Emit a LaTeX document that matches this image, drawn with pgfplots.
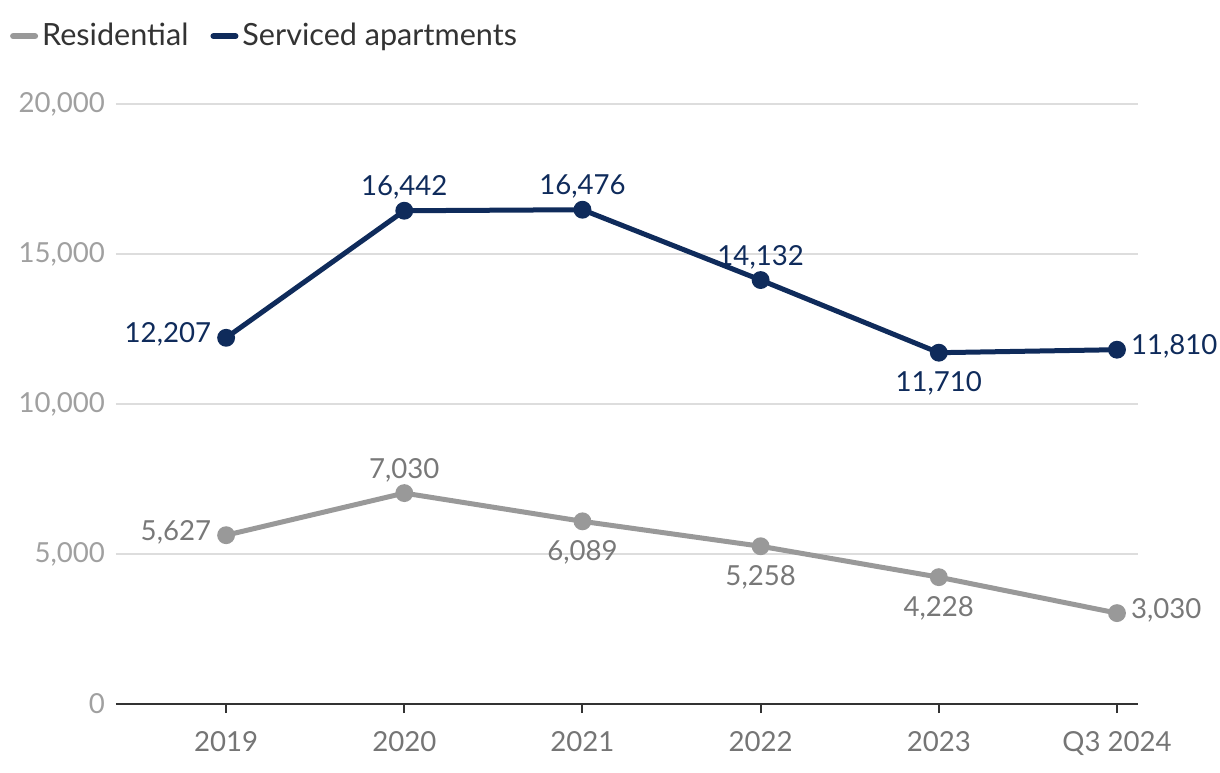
\documentclass[border=0pt]{standalone}
\usepackage{fontspec}
\setmainfont{Lato}
\usepackage{pgfplots}
\usepackage{pgfplotstable}
\pgfplotsset{compat=1.18}
\definecolor{navy}{HTML}{0F2B5B}
\definecolor{resgray}{HTML}{999999}
\definecolor{reslab}{HTML}{787878}
\definecolor{ytl}{HTML}{A0A0A0}
\definecolor{xtl}{HTML}{757575}
\definecolor{gridc}{HTML}{DDDDDD}
\definecolor{axc}{HTML}{333333}
\newcommand{\chartfont}{\fontsize{15.3}{18}\selectfont}
\newcommand{\numfont}{\fontsize{13.8}{16}\selectfont}

\pgfplotstableread{
x y lab
0 5627 5,627
1 7030 7,030
2 6089 6,089
3 5258 5,258
4 4228 4,228
5 3030 3,030
}\residential

\pgfplotstableread{
x y lab
0 12207 12,207
1 16442 16,442
2 16476 16,476
3 14132 14,132
4 11710 11,710
5 11810 11,810
}\serviced

\tikzset{
  lleft/.style={anchor=east, xshift=-4pt, yshift=1.5pt},
  lright/.style={anchor=west, xshift=3.5pt, yshift=1.5pt},
  labove/.style={anchor=south, yshift=2pt},
  lbelow/.style={anchor=north, yshift=-6pt},
}
\pgfplotsset{
  lbl/.style 2 args={
    draw=none, mark=none, forget plot,
    nodes near coords,
    point meta=explicit symbolic,
    every node near coord/.append style={font=\numfont, text=#1, #2},
  },
}

\begin{document}
\begin{tikzpicture}
\begin{axis}[
  scale only axis,
  width=511pt, height=300pt,
  xmin=-0.618, xmax=5.118,
  ymin=0, ymax=20000,
  axis x line*=bottom,
  axis y line*=left,
  y axis line style={draw=none},
  x axis line style={color=axc, line width=1pt, -},
  xtick={0,1,2,3,4,5},
  xticklabels={2019,2020,2021,2022,2023,Q3 2024},
  xtick align=outside,
  major tick length=4.5pt,
  xtick style={color=axc, line width=1pt},
  ytick={0,5000,10000,15000,20000},
  ytick style={draw=none},
  ymajorgrids,
  grid style={color=gridc, line width=0.6pt},
  /pgf/number format/assume math mode=true,
  /pgf/number format/1000 sep={,},
  scaled y ticks=false,
  yticklabel style={font=\numfont, text=ytl, xshift=-2pt},
  xticklabel style={font=\numfont, text=xtl, yshift=-5.5pt},
  legend style={at={(-0.104,1.113)}, anchor=west, draw=none, fill=none,
    legend columns=-1, font=\chartfont, text=axc,
    /tikz/every even column/.append style={column sep=9pt},
    inner xsep=0pt},
  legend image code/.code={\draw[line width=3pt, line cap=round, #1] (1.5pt,0pt) -- (12.5pt,0pt);},
  clip=false,
]
\addplot[color=resgray, line width=2.5pt, mark=*, mark size=3.2pt, mark options={solid}]
  table[x=x, y=y] {\residential};
\addlegendentry{Residential}
\addplot[color=navy, line width=2.5pt, mark=*, mark size=3.2pt, mark options={solid}]
  table[x=x, y=y] {\serviced};
\addlegendentry{Serviced apartments}
% residential labels
\addplot[lbl={reslab}{lleft}, skip coords between index={1}{6}] table[x=x, y=y, meta=lab] {\residential};
\addplot[lbl={reslab}{labove}, skip coords between index={0}{1}, skip coords between index={2}{6}] table[x=x, y=y, meta=lab] {\residential};
\addplot[lbl={reslab}{lbelow}, skip coords between index={0}{2}, skip coords between index={5}{6}] table[x=x, y=y, meta=lab] {\residential};
\addplot[lbl={reslab}{lright}, skip coords between index={0}{5}] table[x=x, y=y, meta=lab] {\residential};
% serviced labels
\addplot[lbl={navy}{lleft}, skip coords between index={1}{6}] table[x=x, y=y, meta=lab] {\serviced};
\addplot[lbl={navy}{labove}, skip coords between index={0}{1}, skip coords between index={4}{6}] table[x=x, y=y, meta=lab] {\serviced};
\addplot[lbl={navy}{lbelow}, skip coords between index={0}{4}, skip coords between index={5}{6}] table[x=x, y=y, meta=lab] {\serviced};
\addplot[lbl={navy}{lright}, skip coords between index={0}{5}] table[x=x, y=y, meta=lab] {\serviced};
\end{axis}
\pgfresetboundingbox
\path[use as bounding box] ([shift={(-58pt,-34pt)}]current axis.south west) rectangle ([shift={(41pt,52pt)}]current axis.north east);
\end{tikzpicture}
\end{document}
